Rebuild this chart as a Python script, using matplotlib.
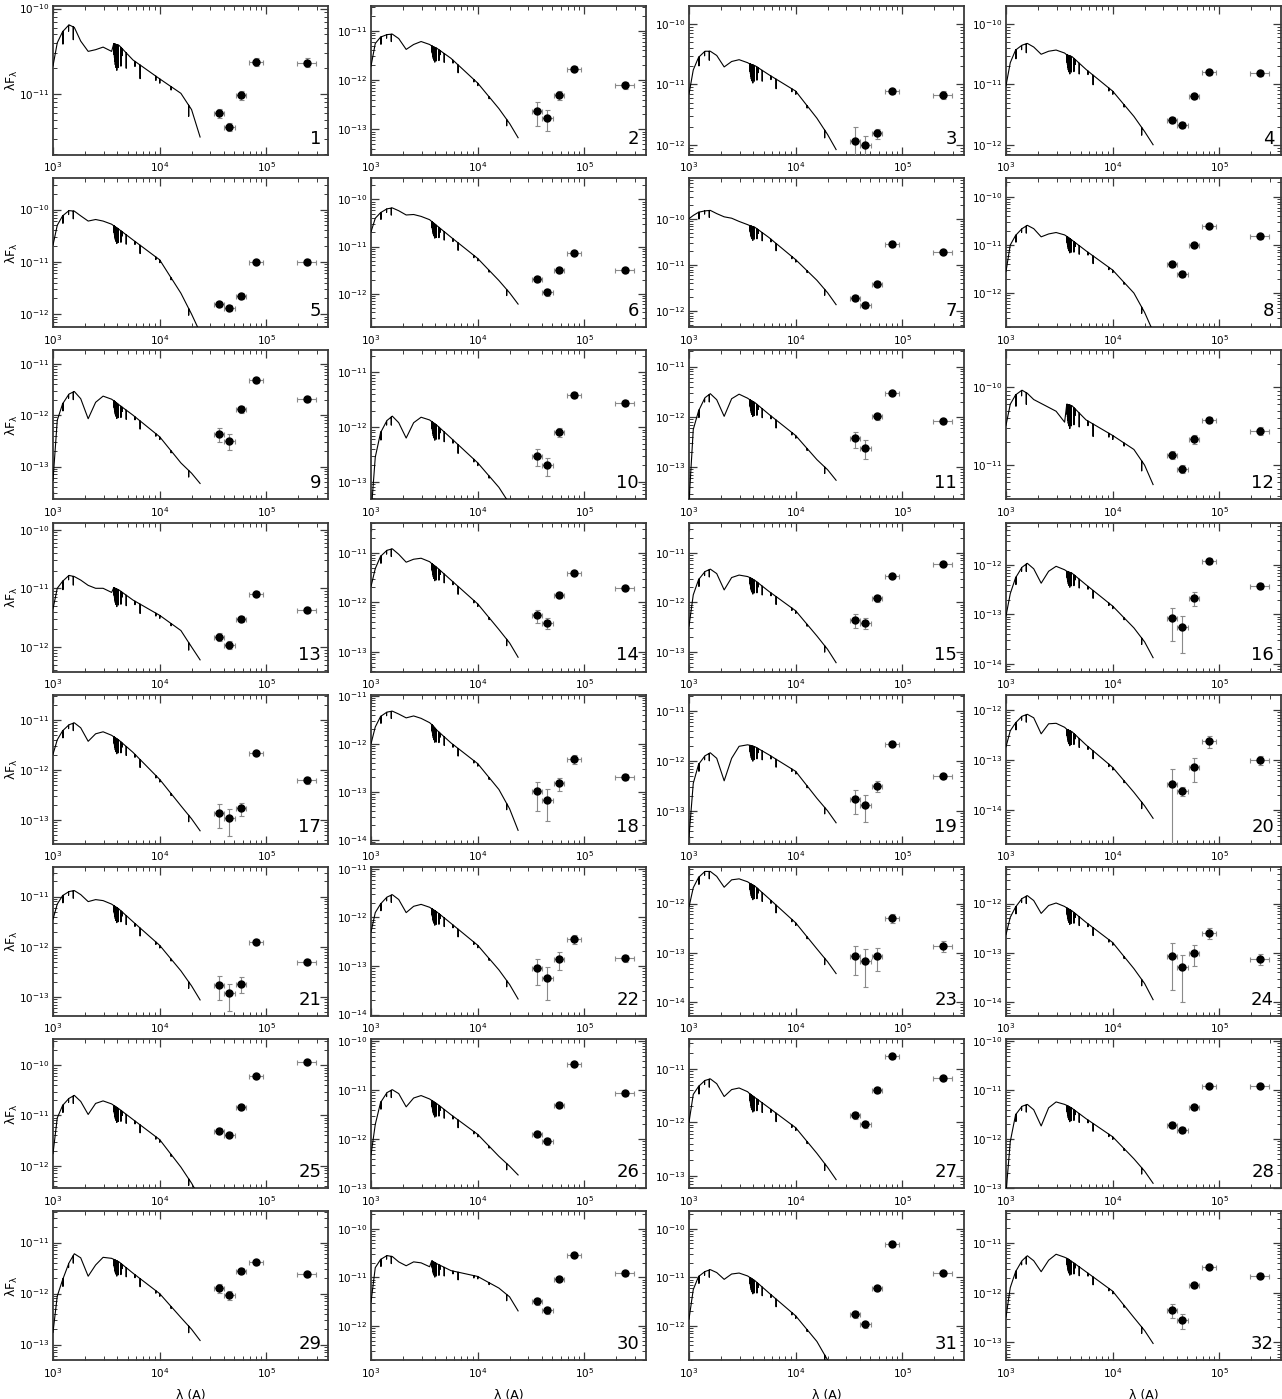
import numpy as np
import matplotlib
matplotlib.use("Agg")
import matplotlib.pyplot as plt
from matplotlib.ticker import LogLocator, NullFormatter, LogFormatterSciNotation

# ---------------- data ----------------
PANEL_IDS = list(range(1, 33))

# y-axis limits (log10 of lambda*F_lambda)
YLIM_LO = [-11.71, -13.52, -12.17, -12.17, -12.25, -12.71, -12.35, -12.71,
           -13.64, -13.32, -13.64, -11.44, -12.42, -13.40, -13.40, -14.15,
           -13.48, -14.08, -13.66, -14.68, -13.38, -14.03, -14.28, -14.28,
           -12.45, -13.00, -13.23, -13.00, -13.31, -12.71, -12.71, -13.36]
YLIM_HI = [-9.97, -10.50, -9.70, -9.70, -9.40, -9.55, -9.11, -9.61,
           -10.74, -10.60, -10.68, -9.53, -9.88, -10.39, -10.39, -11.15,
           -10.50, -10.98, -10.68, -11.70, -10.41, -10.96, -11.26, -11.26,
           -9.48, -9.96, -10.45, -9.96, -10.39, -9.64, -9.64, -10.37]

# photometry: IRAC 3.6, 4.5, 5.8, 8.0 um and MIPS 24 um (Angstrom)
PHOT_WAVE = [3.6e4, 4.5e4, 5.8e4, 8.0e4, 2.4e5]
PHOT_XERR_DEX = [0.05, 0.05, 0.05, 0.065, 0.09]
PHOT_LOGFLUX = [
    [-11.22, -11.38, -11.01, -10.62, -10.63],
    [-12.63, -12.77, -12.30, -11.77, -12.11],
    [-11.93, -12.00, -11.81, -11.11, -11.17],
    [-11.59, -11.67, -11.20, -10.80, -10.81],
    [-11.81, -11.88, -11.65, -11.00, -11.00],
    [-11.69, -11.97, -11.50, -11.13, -11.50],
    [-11.71, -11.86, -11.40, -10.55, -10.71],
    [-11.40, -11.60, -10.99, -10.61, -10.81],
    [-12.36, -12.50, -11.89, -11.32, -11.68],
    [-12.53, -12.70, -12.09, -11.41, -11.56],
    [-12.43, -12.61, -11.99, -11.52, -12.09],
    [-10.87, -11.05, -10.67, -10.42, -10.56],
    [-11.83, -11.96, -11.52, -11.09, -11.37],
    [-12.26, -12.42, -11.85, -11.41, -11.71],
    [-12.36, -12.42, -11.92, -11.47, -11.22],
    [-13.08, -13.26, -12.67, -11.92, -12.42],
    [-12.86, -12.97, -12.77, -11.66, -12.21],
    [-12.99, -13.16, -12.82, -12.32, -12.69],
    [-12.77, -12.88, -12.50, -11.66, -12.31],
    [-13.48, -13.62, -13.15, -12.63, -13.01],
    [-12.76, -12.93, -12.74, -11.90, -12.30],
    [-13.04, -13.24, -12.86, -12.44, -12.84],
    [-13.06, -13.16, -13.07, -12.30, -12.86],
    [-13.06, -13.29, -13.00, -12.60, -13.13],
    [-11.30, -11.38, -10.83, -10.21, -9.93],
    [-11.89, -12.04, -11.30, -10.47, -11.06],
    [-11.87, -12.03, -11.40, -10.77, -11.18],
    [-11.71, -11.81, -11.35, -10.92, -10.92],
    [-11.89, -12.02, -11.55, -11.39, -11.62],
    [-11.49, -11.68, -11.03, -10.53, -10.91],
    [-11.76, -11.97, -11.21, -10.32, -10.91],
    [-12.35, -12.55, -11.85, -11.49, -11.66],
]
# fractional (relative) flux errors
PHOT_RELERR = [
    [0.12, 0.12, 0.12, 0.10, 0.12],
    [0.50, 0.45, 0.20, 0.12, 0.15],
    [0.65, 0.40, 0.20, 0.10, 0.15],
    [0.12, 0.12, 0.10, 0.10, 0.12],
    [0.12, 0.12, 0.12, 0.10, 0.12],
    [0.15, 0.15, 0.12, 0.10, 0.12],
    [0.15, 0.15, 0.12, 0.10, 0.12],
    [0.12, 0.12, 0.10, 0.10, 0.12],
    [0.30, 0.35, 0.15, 0.10, 0.12],
    [0.35, 0.35, 0.20, 0.12, 0.12],
    [0.35, 0.40, 0.15, 0.10, 0.12],
    [0.12, 0.12, 0.12, 0.10, 0.12],
    [0.15, 0.15, 0.12, 0.10, 0.12],
    [0.30, 0.25, 0.12, 0.10, 0.10],
    [0.30, 0.25, 0.15, 0.10, 0.10],
    [0.65, 0.70, 0.30, 0.12, 0.15],
    [0.50, 0.55, 0.30, 0.10, 0.15],
    [0.60, 0.65, 0.30, 0.20, 0.15],
    [0.50, 0.55, 0.25, 0.10, 0.12],
    [0.95, 0.20, 0.50, 0.25, 0.20],
    [0.50, 0.55, 0.35, 0.12, 0.15],
    [0.55, 0.65, 0.40, 0.20, 0.15],
    [0.60, 0.70, 0.50, 0.20, 0.25],
    [0.80, 0.80, 0.45, 0.25, 0.25],
    [0.12, 0.12, 0.10, 0.10, 0.10],
    [0.15, 0.18, 0.12, 0.10, 0.12],
    [0.15, 0.15, 0.12, 0.10, 0.12],
    [0.15, 0.15, 0.12, 0.10, 0.10],
    [0.20, 0.20, 0.12, 0.12, 0.12],
    [0.15, 0.15, 0.10, 0.10, 0.12],
    [0.15, 0.15, 0.10, 0.10, 0.12],
    [0.30, 0.35, 0.12, 0.10, 0.12],
]

# model spectrum (continuum) sampled on a shared log-wavelength grid
SED_LOGWAVE = [3.00, 3.04, 3.09, 3.15, 3.20, 3.26, 3.33, 3.40, 3.47, 3.55,
               3.57, 3.62, 3.75, 4.00, 4.20, 4.30, 4.38]
SED_LOGFLUX = [
    [-10.67, -10.40, -10.27, -10.19, -10.22, -10.38, -10.50, -10.48, -10.45, -10.50, -10.41, -10.43, -10.60, -10.82, -10.99, -11.18, -11.50],
    [-11.72, -11.26, -11.13, -11.08, -11.07, -11.16, -11.38, -11.28, -11.22, -11.28, -11.31, -11.36, -11.56, -12.06, -12.58, -12.88, -13.17],
    [-11.16, -10.76, -10.55, -10.45, -10.45, -10.52, -10.71, -10.62, -10.59, -10.64, -10.66, -10.69, -10.84, -11.11, -11.56, -11.83, -12.08],
    [-11.02, -10.64, -10.43, -10.35, -10.32, -10.38, -10.50, -10.45, -10.43, -10.48, -10.51, -10.54, -10.75, -11.11, -11.53, -11.78, -12.00],
    [-10.68, -10.30, -10.12, -10.02, -10.03, -10.12, -10.22, -10.19, -10.22, -10.28, -10.31, -10.38, -10.58, -10.96, -11.60, -12.00, -12.35],
    [-10.69, -10.40, -10.28, -10.20, -10.18, -10.24, -10.33, -10.32, -10.36, -10.43, -10.47, -10.56, -10.80, -11.25, -11.72, -11.98, -12.22],
    [-9.99, -9.92, -9.85, -9.82, -9.81, -9.88, -9.95, -9.98, -10.05, -10.12, -10.14, -10.18, -10.40, -10.88, -11.33, -11.60, -11.86],
    [-11.55, -11.00, -10.80, -10.66, -10.59, -10.66, -10.83, -10.77, -10.74, -10.79, -10.82, -10.90, -11.12, -11.52, -12.00, -12.40, -12.80],
    [-13.27, -12.10, -11.78, -11.59, -11.54, -11.68, -12.07, -11.75, -11.63, -11.69, -11.72, -11.80, -12.00, -12.42, -12.93, -13.13, -13.33],
    [-13.60, -12.55, -12.10, -11.88, -11.80, -11.92, -12.20, -11.92, -11.82, -11.87, -11.90, -11.97, -12.20, -12.65, -13.10, -13.40, -13.70],
    [-13.70, -12.25, -11.88, -11.62, -11.54, -11.66, -11.99, -11.64, -11.55, -11.63, -11.66, -11.72, -11.95, -12.37, -12.85, -13.05, -13.26],
    [-10.49, -10.22, -10.10, -10.04, -10.08, -10.16, -10.21, -10.26, -10.31, -10.45, -10.22, -10.24, -10.42, -10.62, -10.80, -11.00, -11.25],
    [-11.35, -11.00, -10.88, -10.78, -10.80, -10.86, -10.95, -11.00, -11.00, -11.07, -10.99, -11.03, -11.20, -11.46, -11.72, -12.00, -12.22],
    [-11.68, -11.32, -11.07, -10.95, -10.92, -11.03, -11.19, -11.13, -11.11, -11.18, -11.22, -11.30, -11.55, -12.03, -12.55, -12.82, -13.11],
    [-12.48, -11.85, -11.54, -11.38, -11.33, -11.42, -11.75, -11.50, -11.45, -11.48, -11.50, -11.56, -11.78, -12.17, -12.68, -12.95, -13.22],
    [-13.03, -12.58, -12.26, -12.05, -11.97, -12.08, -12.37, -12.13, -12.03, -12.10, -12.13, -12.17, -12.40, -12.83, -13.27, -13.55, -13.87],
    [-11.69, -11.40, -11.22, -11.10, -11.06, -11.16, -11.43, -11.28, -11.24, -11.31, -11.34, -11.41, -11.65, -12.19, -12.72, -12.98, -13.22],
    [-12.00, -11.65, -11.43, -11.34, -11.32, -11.38, -11.46, -11.42, -11.47, -11.56, -11.60, -11.72, -11.98, -12.41, -12.95, -13.35, -13.80],
    [-13.52, -12.45, -12.07, -11.90, -11.84, -11.95, -12.40, -11.95, -11.71, -11.68, -11.69, -11.72, -11.88, -12.21, -12.75, -13.00, -13.24],
    [-12.74, -12.42, -12.26, -12.13, -12.09, -12.16, -12.48, -12.28, -12.27, -12.35, -12.39, -12.44, -12.70, -13.15, -13.65, -13.92, -14.17],
    [-11.45, -11.15, -10.98, -10.90, -10.88, -10.96, -11.10, -11.06, -11.08, -11.15, -11.18, -11.25, -11.50, -11.97, -12.48, -12.78, -13.06],
    [-12.30, -11.90, -11.72, -11.58, -11.53, -11.63, -11.90, -11.77, -11.73, -11.79, -11.82, -11.89, -12.12, -12.57, -13.08, -13.38, -13.68],
    [-12.07, -11.68, -11.47, -11.35, -11.35, -11.45, -11.67, -11.52, -11.50, -11.56, -11.59, -11.65, -11.90, -12.39, -12.92, -13.18, -13.42],
    [-12.63, -12.28, -12.07, -11.90, -11.84, -11.94, -12.20, -12.04, -11.99, -12.06, -12.09, -12.15, -12.38, -12.79, -13.32, -13.62, -13.95],
    [-11.76, -11.05, -10.80, -10.66, -10.60, -10.72, -10.98, -10.76, -10.71, -10.77, -10.80, -10.87, -11.08, -11.48, -12.03, -12.35, -12.65],
    [-12.32, -11.70, -11.25, -11.05, -10.99, -11.07, -11.34, -11.16, -11.11, -11.18, -11.21, -11.28, -11.50, -11.90, -12.35, -12.55, -12.73],
    [-12.00, -11.48, -11.33, -11.22, -11.19, -11.28, -11.52, -11.39, -11.36, -11.43, -11.47, -11.54, -11.73, -12.10, -12.58, -12.84, -13.07],
    [-13.10, -12.05, -11.50, -11.33, -11.29, -11.40, -11.73, -11.36, -11.24, -11.29, -11.31, -11.37, -11.58, -11.95, -12.40, -12.65, -12.90],
    [-12.76, -12.05, -11.73, -11.40, -11.22, -11.30, -11.66, -11.44, -11.29, -11.31, -11.33, -11.38, -11.60, -12.00, -12.47, -12.70, -12.92],
    [-11.51, -10.80, -10.63, -10.55, -10.57, -10.68, -10.76, -10.68, -10.70, -10.78, -10.66, -10.72, -10.86, -10.98, -11.22, -11.40, -11.69],
    [-11.86, -11.25, -10.98, -10.88, -10.84, -10.90, -11.04, -10.93, -10.91, -10.97, -11.00, -11.07, -11.32, -11.79, -12.32, -12.70, -13.00],
    [-12.49, -11.90, -11.58, -11.36, -11.26, -11.36, -11.58, -11.35, -11.23, -11.29, -11.31, -11.38, -11.58, -11.97, -12.50, -12.76, -13.02],
]

# absorption lines in the model spectra (Angstrom, depth in dex)
LINE_WAVE = [1240, 1400, 1550,
             3734, 3750, 3771, 3798, 3835, 3889, 3970, 4026, 4102,
             4340, 4471, 4861, 5876, 6563,
             9229, 10049, 12818, 18751]
LINE_DEPTH = [0.15, 0.07, 0.15,
              0.10, 0.13, 0.16, 0.20, 0.24, 0.27, 0.30, 0.08, 0.26,
              0.22, 0.08, 0.18, 0.06, 0.16,
              0.05, 0.05, 0.04, 0.13]

X_MIN, X_MAX = 1.0e3, 10 ** 5.58

# ---------------- layout ----------------
FW, FH = 1282, 1399
COL_LEFT = [53, 371, 689, 1006]
AX_W, AX_H = 275, 149
ROW_TOP0, ROW_PITCH = 6, 172.2
FRAME = "#3a3a3a"

plt.rcParams["font.family"] = ["DejaVu Sans"]
plt.rcParams["mathtext.default"] = "regular"

fig = plt.figure(figsize=(FW / 100, FH / 100), dpi=100)

lw_lines = np.log10(np.array(LINE_WAVE, dtype=float))
ld_lines = np.array(LINE_DEPTH)
eps = 0.0003

for i, pid in enumerate(PANEL_IDS):
    r, c = divmod(i, 4)
    top = ROW_TOP0 + r * ROW_PITCH
    ax = fig.add_axes([COL_LEFT[c] / FW, 1 - (top + AX_H) / FH, AX_W / FW, AX_H / FH])
    ax.set_xscale("log")
    ax.set_yscale("log")

    # model spectrum with absorption lines
    lg = np.array(SED_LOGWAVE)
    lf = np.array(SED_LOGFLUX[i])
    m = (lw_lines > lg[0]) & (lw_lines < lg[-1])
    cont = np.interp(lw_lines[m], lg, lf)
    xs = np.concatenate([lg, lw_lines[m] - eps, lw_lines[m], lw_lines[m] + eps])
    ys = np.concatenate([lf, cont, cont - ld_lines[m], cont])
    order = np.argsort(xs, kind="stable")
    ax.plot(10 ** xs[order], 10 ** ys[order], color="black", lw=0.8, zorder=3)

    # photometry
    wv = np.array(PHOT_WAVE)
    fl = 10 ** np.array(PHOT_LOGFLUX[i])
    ye = np.array(PHOT_RELERR[i]) * fl
    dx = np.array(PHOT_XERR_DEX)
    xe = np.vstack([wv - wv * 10 ** (-dx), wv * 10 ** dx - wv])
    ax.errorbar(wv, fl, yerr=ye, xerr=xe, fmt="o", color="black", ms=5,
                ecolor="#8a8a8a", elinewidth=0.8, capsize=1.8, capthick=0.8, zorder=4)

    ax.set_xlim(X_MIN, X_MAX)
    ax.set_ylim(10 ** YLIM_LO[i], 10 ** YLIM_HI[i])

    ax.xaxis.set_major_locator(LogLocator(base=10, numticks=10))
    ax.yaxis.set_major_locator(LogLocator(base=10, numticks=10))
    ax.xaxis.set_minor_locator(LogLocator(base=10, subs=np.arange(2, 10), numticks=50))
    ax.yaxis.set_minor_locator(LogLocator(base=10, subs=np.arange(2, 10), numticks=50))
    ax.xaxis.set_minor_formatter(NullFormatter())
    ax.yaxis.set_minor_formatter(NullFormatter())
    ax.xaxis.set_major_formatter(LogFormatterSciNotation())
    ax.yaxis.set_major_formatter(LogFormatterSciNotation())
    ax.tick_params(which="both", direction="in", top=True, right=True,
                   colors=FRAME, labelcolor="black", labelsize=7.5)
    ax.tick_params(which="major", length=6, width=0.9)
    ax.tick_params(which="minor", length=3, width=0.7)
    ax.tick_params(axis="y", pad=3)
    ax.tick_params(axis="x", pad=4)
    for sp in ax.spines.values():
        sp.set_color(FRAME)
        sp.set_linewidth(1.3)

    ax.text(0.975, 0.05, str(pid), transform=ax.transAxes, ha="right", va="bottom",
            fontsize=13, color="black")

    if c == 0:
        ax.set_ylabel(r"λF$_λ$", fontsize=9)
        ax.yaxis.set_label_coords(-0.12, 0.5)
    if r == 7:
        ax.set_xlabel("λ (A)", fontsize=9)
        ax.xaxis.set_label_coords(0.5, -0.19)

fig.savefig("out.png", dpi=100)
